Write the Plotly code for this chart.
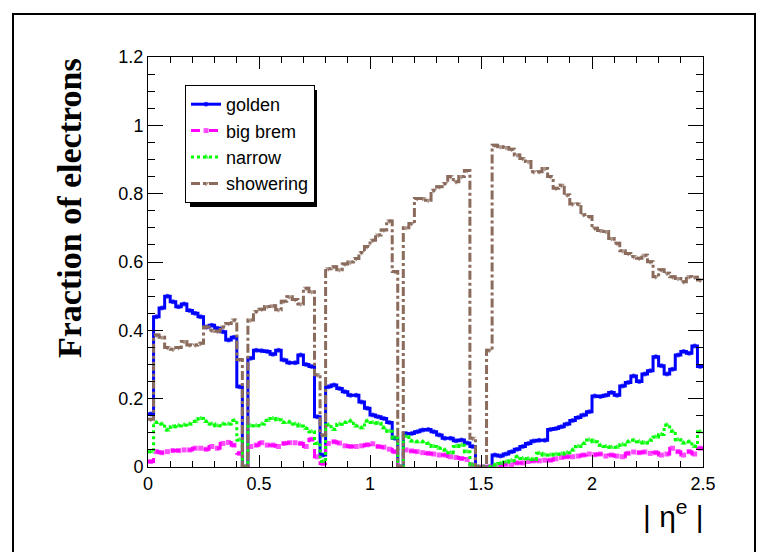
import plotly.graph_objects as go

# Histogram definition: 100 bins of |eta| from 0 to 2.5
n_bins = 100
eta_min, eta_max = 0.0, 2.5

series_names = ["golden", "big brem", "narrow", "showering"]

golden = [
    0.155, 0.44, 0.465, 0.50, 0.484, 0.469, 0.477, 0.458, 0.45, 0.44,
    0.41, 0.415, 0.406, 0.396, 0.372, 0.38, 0.235, 0.0, 0.318, 0.342,
    0.34, 0.338, 0.33, 0.342, 0.313, 0.305, 0.305, 0.328, 0.30, 0.294,
    0.147, 0.035, 0.235, 0.24, 0.23, 0.22, 0.21, 0.21, 0.19, 0.172,
    0.152, 0.147, 0.142, 0.13, 0.084, 0.0, 0.098, 0.098, 0.103, 0.108,
    0.11, 0.103, 0.094, 0.084, 0.084, 0.077, 0.079, 0.07, 0.06, 0.0,
    0.0, 0.0, 0.035, 0.032, 0.038, 0.045, 0.052, 0.06, 0.069, 0.076,
    0.078, 0.078, 0.11, 0.113, 0.118, 0.126, 0.136, 0.145, 0.152, 0.162,
    0.208, 0.206, 0.21, 0.218, 0.21, 0.237, 0.247, 0.266, 0.25, 0.272,
    0.282, 0.323, 0.296, 0.272, 0.286, 0.328, 0.338, 0.333, 0.354, 0.294,
]

big_brem = [
    0.016, 0.045, 0.042, 0.045, 0.048, 0.048, 0.05, 0.05, 0.055, 0.055,
    0.052, 0.06, 0.055, 0.069, 0.072, 0.064, 0.04, 0.0, 0.06, 0.064,
    0.071, 0.064, 0.064, 0.06, 0.069, 0.071, 0.071, 0.069, 0.06, 0.081,
    0.03, 0.01, 0.069, 0.074, 0.07, 0.062, 0.06, 0.06, 0.062, 0.065,
    0.068, 0.06, 0.058, 0.052, 0.045, 0.0, 0.05, 0.047, 0.045, 0.042,
    0.04, 0.038, 0.035, 0.035, 0.03, 0.028, 0.025, 0.022, 0.006, 0.0,
    0.0, 0.0, 0.002, 0.005, 0.008, 0.006, 0.012, 0.012, 0.016, 0.018,
    0.018, 0.02, 0.02, 0.024, 0.028, 0.03, 0.03, 0.032, 0.035, 0.038,
    0.036, 0.038, 0.032, 0.035, 0.032, 0.03, 0.04, 0.044, 0.042, 0.044,
    0.04, 0.042, 0.035, 0.038, 0.055, 0.045, 0.035, 0.045, 0.038, 0.055,
]

narrow = [
    0.045, 0.13, 0.126, 0.108, 0.118, 0.121, 0.123, 0.126, 0.133, 0.142,
    0.133, 0.126, 0.121, 0.126, 0.126, 0.136, 0.079, 0.0, 0.121, 0.121,
    0.126, 0.136, 0.142, 0.138, 0.13, 0.132, 0.126, 0.12, 0.113, 0.103,
    0.069, 0.016, 0.123, 0.11, 0.125, 0.13, 0.135, 0.12, 0.115, 0.135,
    0.13, 0.128, 0.115, 0.105, 0.085, 0.0, 0.089, 0.076, 0.074, 0.074,
    0.069, 0.06, 0.055, 0.05, 0.042, 0.06, 0.064, 0.045, 0.006, 0.0,
    0.0, 0.0, 0.006, 0.01, 0.015, 0.018, 0.03, 0.025, 0.024, 0.022,
    0.04, 0.035, 0.035, 0.037, 0.038, 0.042, 0.05, 0.06, 0.069, 0.079,
    0.074, 0.064, 0.06, 0.058, 0.058, 0.065, 0.074, 0.078, 0.074, 0.07,
    0.078, 0.088, 0.095, 0.123, 0.105, 0.08, 0.07, 0.074, 0.06, 0.103,
]

showering = [
    0.14, 0.386, 0.38, 0.35, 0.345, 0.35, 0.367, 0.357, 0.357, 0.362,
    0.41, 0.40, 0.397, 0.41, 0.42, 0.43, 0.315, 0.0, 0.43, 0.455,
    0.462, 0.47, 0.472, 0.46, 0.485, 0.498, 0.49, 0.477, 0.523, 0.513,
    0.27, 0.094, 0.58, 0.586, 0.577, 0.594, 0.6, 0.61, 0.628, 0.645,
    0.664, 0.679, 0.694, 0.72, 0.572, 0.0, 0.70, 0.713, 0.786, 0.786,
    0.781, 0.81, 0.82, 0.83, 0.85, 0.835, 0.85, 0.868, 0.084, 0.0,
    0.0, 0.342, 0.942, 0.937, 0.935, 0.93, 0.913, 0.903, 0.894, 0.864,
    0.864, 0.874, 0.85, 0.816, 0.825, 0.796, 0.77, 0.77, 0.738, 0.733,
    0.699, 0.692, 0.689, 0.669, 0.655, 0.633, 0.625, 0.616, 0.611, 0.62,
    0.601, 0.557, 0.577, 0.567, 0.557, 0.552, 0.542, 0.557, 0.555, 0.547,
]

x_tick_vals = [0, 0.5, 1, 1.5, 2, 2.5]
y_tick_vals = [0, 0.2, 0.4, 0.6, 0.8, 1, 1.2]

styles = {
    "golden": dict(color="#0000ff", dash="solid", symbol="circle", msize=5),
    "big brem": dict(color="#ff00ff", dash="dash", symbol="square", msize=5),
    "narrow": dict(color="#00ff00", dash="dot", symbol="triangle-up", msize=6),
    "showering": dict(color="#8a6b5c", dash="dashdot", symbol="triangle-down", msize=6),
}

bw = (eta_max - eta_min) / n_bins
centers = [eta_min + bw * (i + 0.5) for i in range(n_bins)]

fig = go.Figure()
for name, vals in zip(series_names, [golden, big_brem, narrow, showering]):
    st = styles[name]
    xs = [eta_min] + centers + [eta_max]
    ys = [vals[0]] + list(vals) + [vals[-1]]
    sizes = [0] + [st["msize"]] * n_bins + [0]
    fig.add_trace(go.Scatter(
        x=xs, y=ys, name=name, mode="lines+markers",
        line=dict(shape="hvh", color=st["color"], width=3, dash=st["dash"]),
        marker=dict(symbol=st["symbol"], size=sizes, color=st["color"], line=dict(width=0)),
    ))

W, H = 758, 552
L, R, T, B = 148, 55, 57, 85
pw, ph = W - L - R, H - T - B


def px(xp):
    return (xp - L) / pw


def py(yp):
    return (H - B - yp) / ph


tick_font = dict(family="Liberation Sans, Arial", size=18, color="black")

fig.update_layout(
    width=W, height=H,
    margin=dict(l=L, r=R, t=T, b=B),
    paper_bgcolor="white", plot_bgcolor="white",
    showlegend=True,
    legend=dict(
        x=px(185), y=py(85), xanchor="left", yanchor="top",
        bgcolor="white", bordercolor="black", borderwidth=1,
        font=dict(family="Liberation Sans, Arial", size=18, color="black"),
    ),
    xaxis=dict(
        range=[eta_min, eta_max], tickvals=x_tick_vals,
        ticktext=[f"{v:g}" for v in x_tick_vals],
        showline=True, linecolor="black", linewidth=1, mirror="ticks",
        ticks="inside", ticklen=12, tickwidth=1, tickcolor="black",
        minor=dict(ticks="inside", dtick=0.1, ticklen=6, tickcolor="black", tickwidth=1),
        showgrid=False, zeroline=False, tickfont=tick_font,
    ),
    yaxis=dict(
        range=[0, 1.2], tickvals=y_tick_vals,
        ticktext=[f"{v:g}" for v in y_tick_vals],
        showline=True, linecolor="black", linewidth=1, mirror="ticks",
        ticks="inside", ticklen=15, tickwidth=1, tickcolor="black",
        minor=dict(ticks="inside", dtick=0.05, ticklen=7, tickcolor="black", tickwidth=1),
        showgrid=False, zeroline=False, tickfont=tick_font,
    ),
    shapes=[
        dict(type="rect", xref="paper", yref="paper",
             x0=px(13), x1=px(755), y0=py(570), y1=py(14),
             line=dict(color="black", width=2), fillcolor="rgba(0,0,0,0)"),
        dict(type="rect", xref="paper", yref="paper",
             x0=px(190), x1=px(317), y0=py(207), y1=py(90),
             line=dict(width=0), fillcolor="black", layer="above"),
    ],
    annotations=[
        dict(text="<b>Fraction of electrons</b>", xref="paper", yref="paper",
             x=px(69), y=py(208), xanchor="center", yanchor="middle",
             textangle=-90, showarrow=False,
             font=dict(family="Liberation Serif, Times New Roman", size=34, color="black")),
        dict(text="| η<sup>e</sup> |", xref="paper", yref="paper",
             x=px(706), y=py(514), xanchor="right", yanchor="middle",
             showarrow=False,
             font=dict(family="Liberation Sans, Arial", size=30, color="black")),
    ],
)

fig.write_html("out.html")
